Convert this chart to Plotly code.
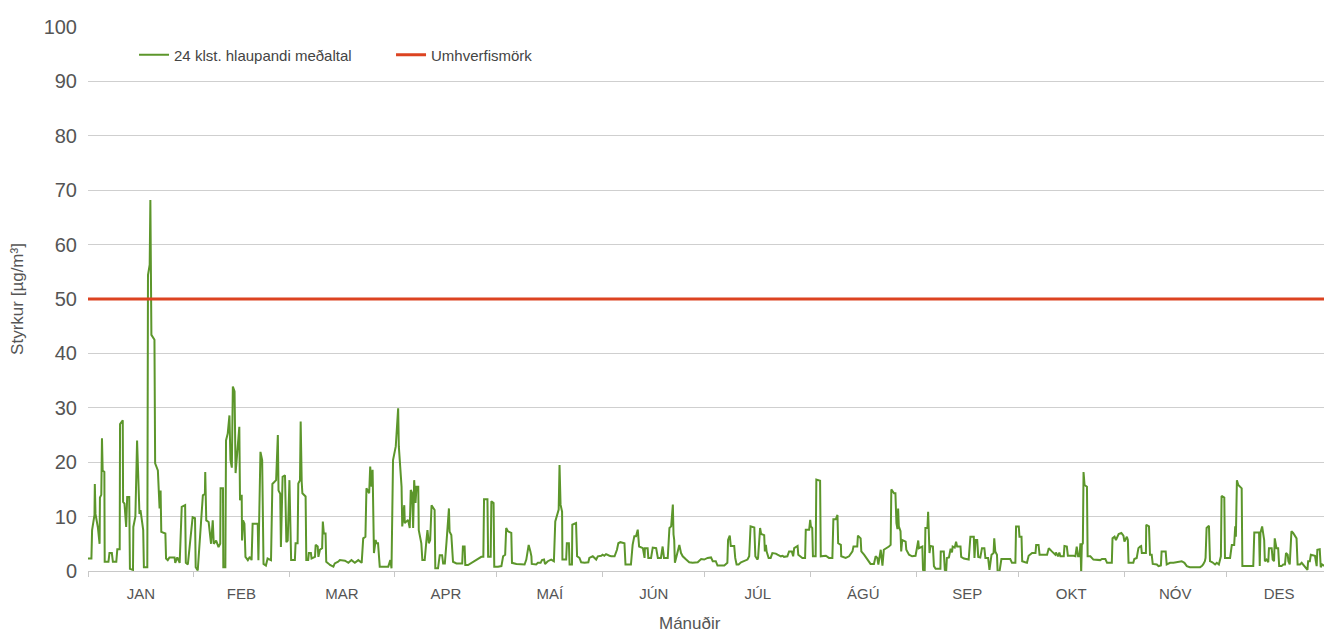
import plotly.graph_objects as go

# ---- data (day of year, 24h running mean in µg/m³) ----
jan_days = [0.0, 1.0, 1.2, 1.9, 2.0, 2.2, 2.9, 3.4, 3.5, 3.9, 4.1, 4.3, 4.8, 4.9, 6.0, 6.3, 7.0, 7.3, 8.3, 8.6,
            9.3, 9.4, 10.2, 10.3, 10.7, 11.2, 11.5, 12.1, 12.3, 13.2, 13.3, 13.9, 14.4, 14.6, 15.1, 15.4, 15.6,
            16.2, 16.4, 17.4, 17.6, 18.1, 18.3, 18.5, 18.6, 19.5, 19.7, 20.5, 21.0, 21.3, 21.5, 22.7, 22.9,
            23.4, 23.9, 25.4, 25.6, 26.2, 26.9, 27.5, 28.5, 28.7, 29.3, 30.7, 31.4, 31.6, 32.2]
jan_vals = [2.3, 2.3, 7.5, 10.3, 16.0, 10.5, 8.0, 5.0, 13.5, 14.0, 24.4, 18.5, 18.2, 1.7, 1.7, 3.3, 3.3, 1.7, 1.7, 4.0,
            4.0, 27.0, 27.7, 12.7, 12.4, 8.1, 13.6, 13.6, 0.4, 0.2, 8.1, 10.0, 24.0, 18.5, 10.5, 11.2, 10.0,
            7.5, 0.7, 0.7, 54.4, 56.3, 68.2, 56.0, 43.4, 42.5, 19.8, 18.5, 11.5, 14.8, 7.2, 6.9, 2.3,
            2.0, 2.5, 2.5, 1.5, 2.5, 1.5, 11.8, 12.1, 1.5, 1.2, 9.9, 9.7, 0.7, 0.1]

feb_days = [33.7, 34.3, 34.4, 34.7, 35.4, 35.6, 36.1, 36.6, 36.9, 37.6, 38.3, 38.8, 38.9, 39.6, 39.7, 40.3, 40.5,
            41.0, 41.5, 41.8, 42.2, 42.5, 43.0, 43.3, 44.4, 44.6, 45.1, 45.2, 45.5, 45.9, 46.2, 46.9, 47.5, 48.0,
            48.3, 49.8, 50.0, 50.6, 51.1, 51.5, 52.2, 52.7, 53.7, 54.1, 55.2, 55.7, 55.9, 56.4, 56.6, 57.1, 57.8,
            58.2, 58.6, 59.1, 59.6]
feb_vals = [13.9, 14.2, 18.2, 9.3, 9.0, 7.5, 5.0, 9.3, 5.0, 5.6, 4.4, 5.0, 15.2, 15.2, 0.7, 0.7, 24.0,
            25.3, 28.6, 20.4, 19.0, 33.9, 33.0, 18.0, 26.5, 13.0, 14.0, 5.6, 9.3, 8.7, 2.6, 2.0, 2.6, 2.0,
            8.7, 8.7, 2.0, 21.9, 20.4, 1.3, 1.0, 2.3, 2.0, 16.0, 16.7, 25.0, 14.8, 14.2, 4.4, 17.3, 17.6,
            5.3, 5.6, 16.7, 2.0]

mar_apr_days = [60.7, 60.9, 61.5, 61.7, 62.2, 62.4, 62.7, 62.9, 63.85, 64.05, 64.6, 64.8, 65.4, 65.6, 66.6, 66.8,
                67.4, 67.6, 68.05, 68.7, 68.9, 69.2, 69.7, 69.9, 70.5, 71.0, 72.0, 72.4, 73.4, 73.9, 75.4, 76.4,
                77.3, 78.3, 79.3, 80.3, 80.75, 81.4, 81.7, 82.5, 82.8, 83.2, 83.5, 83.9, 84.4, 84.65, 85.1, 85.6,
                88.1, 88.7, 89.05, 89.5, 90.3, 91.0, 91.2, 92.0, 92.2, 92.8, 92.95, 93.9, 94.4, 94.7, 95.1, 95.4,
                95.7, 96.1, 96.4, 96.9, 97.05, 97.8, 98.1, 98.8, 99.3, 99.6, 100.0, 100.4, 100.8, 101.7, 101.9,
                102.7, 103.2, 103.9, 104.2, 104.7, 105.2, 105.6, 105.9, 106.1, 106.6, 107.1, 108.1, 109.8, 110.0,
                110.5, 110.7, 111.5, 113.0, 113.95, 115.4, 116.0, 116.2, 117.2, 117.4, 118.15, 118.35, 119.0,
                119.2, 120.3, 121.3, 121.8, 122.4]
mar_apr_vals = [2.0, 5.1, 5.1, 16.1, 16.7, 27.5, 16.4, 14.3, 13.7, 2.0, 2.0, 3.3, 3.3, 2.3, 2.6, 4.8,
                4.5, 2.6, 3.9, 4.2, 9.1, 6.9, 6.9, 1.7, 1.4, 1.1, 0.8, 1.4, 1.7, 2.0, 1.9, 1.5,
                2.0, 1.5, 2.0, 1.5, 6.0, 6.3, 15.2, 14.3, 19.2, 15.5, 18.6, 3.3, 5.7, 5.1, 5.1, 0.8,
                0.8, 2.0, 0.5, 20.4, 22.9, 29.9, 22.9, 15.5, 8.2, 12.1, 8.8, 9.4, 7.9, 14.9, 14.3, 7.9,
                16.7, 12.5, 15.5, 15.5, 7.5, 5.1, 2.0, 2.0, 5.7, 7.5, 5.1, 5.7, 12.1, 11.2, 0.5,
                0.5, 2.9, 2.9, 1.4, 1.4, 5.4, 8.2, 11.5, 7.2, 6.6, 1.7, 1.4, 1.4, 4.5,
                4.5, 1.1, 1.1, 1.7, 2.0, 2.6, 2.6, 13.2, 13.2, 2.6, 2.6, 12.8, 12.5,
                0.8, 0.8, 0.9, 2.7, 3.0]

may_jun_days = [122.7, 123.2, 124.2, 124.4, 125.7, 127.6, 128.1, 128.6, 129.1, 129.3, 129.8, 130.1, 130.2, 131.0,
                131.5, 132.0, 132.8, 133.2, 133.8, 134.1, 134.9, 135.9, 136.7, 137.1, 138.1, 138.35, 138.65,
                139.1, 139.2, 140.3, 140.5, 141.1, 141.3, 142.0, 142.1, 143.2, 143.5, 144.2, 144.7, 145.7, 146.8,
                147.1, 148.1, 149.1, 149.6, 150.6, 151.0, 151.5, 152.0, 153.0, 153.5, 154.5, 155.2, 155.6, 156.2,
                157.4, 157.7, 159.3, 159.8, 160.3, 160.8, 161.3, 161.7, 162.8, 163.3, 163.4, 164.2, 164.4, 165.2,
                165.7, 166.7, 167.2, 168.1, 168.6, 169.0, 170.1, 170.6, 171.1, 171.6, 171.8, 172.0, 172.2, 172.7,
                173.5, 174.0, 174.5, 175.5, 176.4, 177.4, 178.9, 179.9, 180.8]
may_jun_vals = [7.9, 7.3, 7.0, 1.5, 1.3, 1.3, 1.2, 2.1, 3.9, 4.8, 3.6, 2.7, 1.3, 1.3,
                1.2, 1.5, 1.5, 2.0, 2.1, 1.3, 1.8, 2.1, 1.8, 9.1, 11.3, 19.5, 12.2,
                10.9, 2.1, 2.1, 5.1, 5.1, 1.2, 1.2, 8.5, 8.8, 2.7, 2.4, 1.6, 1.5, 1.6,
                2.4, 2.7, 2.1, 2.7, 2.8, 3.0, 2.8, 3.1, 2.8, 2.7, 2.7, 3.9, 5.1, 5.3,
                5.1, 1.2, 1.2, 4.8, 6.4, 6.4, 7.6, 4.5, 4.2, 2.4, 4.2, 4.2, 2.4, 2.4,
                4.3, 4.2, 2.4, 2.4, 4.5, 2.4, 2.4, 7.9, 8.2, 12.2, 6.7, 5.7, 1.5, 3.0,
                4.8, 3.3, 2.7, 2.1, 1.6, 1.5, 1.6, 2.2, 2.1]

jul_aug_days = [181.8, 182.8, 183.3, 184.2, 184.7, 186.7, 187.6, 187.8, 188.3, 188.6, 189.6, 189.9, 190.3, 190.9,
                191.6, 192.5, 193.5, 194.0, 194.4, 195.5, 195.8, 196.4, 196.6, 197.2, 197.5, 198.4, 198.6, 198.9,
                199.1, 199.7, 200.3, 200.8, 201.8, 202.3, 203.3, 203.8, 204.2, 205.2, 205.7, 206.5, 206.9, 207.2,
                207.9, 208.2, 208.4, 209.6, 210.4, 210.6, 211.6, 211.9, 212.1, 212.5, 212.7, 213.5, 213.7, 214.8,
                215.0, 216.5, 217.4, 218.4, 218.7, 219.4, 219.9, 220.1, 220.9, 221.0, 222.3, 223.3, 224.3, 224.6,
                225.7, 225.9, 226.7, 226.9, 227.7, 228.7, 229.6, 230.6, 231.1, 231.6, 231.9, 232.6, 233.1, 233.5,
                234.5, 235.0, 235.5, 235.7, 236.5, 236.9, 237.2, 237.5, 237.7, 237.9, 238.4, 238.6, 238.9, 239.9,
                240.1, 240.9, 241.8, 242.8]
jul_aug_vals = [2.4, 2.5, 1.8, 1.8, 1.0, 1.0, 1.5, 5.7, 6.5, 4.6, 4.6, 2.4, 1.2, 1.2,
                1.6, 1.8, 2.1, 2.7, 8.2, 8.0, 2.7, 2.1, 2.4, 7.9, 6.8, 6.6, 3.6, 4.8,
                3.6, 2.4, 2.4, 3.3, 3.2, 3.0, 2.7, 2.8, 2.6, 2.7, 3.6, 3.6, 2.7, 4.2,
                4.5, 4.6, 3.0, 2.4, 2.4, 7.6, 7.6, 9.4, 8.2, 7.9, 2.7, 2.7, 16.8, 16.6,
                2.7, 2.8, 2.4, 2.4, 9.5, 9.5, 10.3, 5.1, 4.8, 2.7, 2.4, 2.7, 3.6, 4.5,
                4.5, 6.5, 6.0, 3.6, 3.0, 2.1, 1.3, 1.3, 2.7, 2.4, 1.2, 3.9, 1.0, 3.9,
                4.2, 4.5, 4.8, 15.0, 14.3, 14.3, 8.8, 7.7, 11.5, 8.2, 7.3, 3.6, 5.7, 5.4,
                3.9, 3.0, 2.7, 2.8]

sep_oct_days = [243.3, 243.6, 243.8, 244.8, 245.0, 245.5, 245.7, 246.3, 246.5, 246.9, 247.2, 247.9, 248.2, 248.7,
                250.1, 250.2, 251.1, 251.4, 251.8, 252.0, 252.6, 253.1, 253.5, 253.7, 254.3, 254.7, 255.0, 256.0,
                256.2, 257.0, 258.4, 258.9, 259.9, 260.1, 260.4, 260.9, 261.2, 261.8, 262.3, 263.0, 263.3, 264.1,
                264.5, 265.1, 265.7, 265.9, 266.2, 266.7, 267.0, 267.4, 268.0, 270.6, 271.1, 272.1, 272.3, 273.1,
                273.3, 273.9, 274.1, 275.0, 275.5, 276.0, 277.0, 278.0, 278.2, 278.9, 279.2, 281.4, 281.9, 282.8,
                283.8, 284.0, 284.6, 285.0, 285.3, 286.3, 286.5, 287.2, 287.5, 289.2, 289.7, 290.1, 290.5, 290.9,
                291.2, 291.4, 291.6, 291.9, 292.1, 292.4, 293.1, 293.3, 294.1, 295.0, 296.0, 297.0, 297.5, 298.5,
                299.0, 300.4, 300.6, 301.2, 301.6, 302.4, 303.2, 303.8, 304.1]
sep_oct_vals = [4.5, 5.6, 4.2, 4.5, 0.2, 0.0, 7.9, 7.9, 10.9, 3.3, 4.6, 4.5, 0.9, 0.4,
                0.4, 3.6, 3.6, 0.2, 0.0, 2.4, 2.5, 4.1, 3.4, 4.5, 4.3, 5.4, 4.5, 4.5,
                2.6, 2.3, 2.1, 6.3, 6.3, 2.4, 5.7, 5.7, 2.6, 2.5, 4.2, 4.2, 2.4, 2.4,
                0.2, 3.0, 3.3, 6.0, 3.6, 3.0, -1.9, 0.2, 2.2, 2.2, 1.5, 1.5, 8.2, 8.2,
                6.3, 6.3, 1.8, 1.6, 1.5, 2.8, 3.3, 3.3, 4.8, 4.8, 3.0, 3.0, 4.2, 3.6,
                3.0, 3.4, 2.7, 3.4, 2.7, 2.7, 4.6, 4.5, 2.8, 2.8, 2.7, 4.5, 2.7, 2.7,
                5.1, -0.4, 4.8, 5.1, 18.2, 15.8, 15.5, 2.7, 2.7, 2.1, 2.0, 2.0, 2.2, 2.2,
                1.5, 1.5, 6.0, 6.3, 5.7, 6.8, 7.0, 6.5, 5.4]

nov_dec_days = [304.8, 305.1, 305.3, 306.7, 307.0, 307.7, 308.2, 308.7, 309.0, 309.2, 310.4, 310.5, 311.3, 311.6,
                312.1, 312.4, 313.6, 314.1, 314.8, 315.0, 316.2, 316.5, 317.5, 318.5, 319.9, 320.9, 321.7, 322.4,
                323.3, 326.3, 326.8, 327.2, 327.7, 327.9, 328.2, 328.9, 329.2, 329.9, 330.7, 331.2, 331.8, 332.4,
                332.6, 333.4, 333.6, 335.1, 335.6, 336.3, 336.6, 336.8, 337.1, 337.5, 338.5, 338.7, 341.9, 342.2,
                343.6, 343.8, 344.0, 344.5, 345.1, 345.3, 345.8, 346.3, 346.5, 347.3, 347.6, 348.0, 348.2, 348.7,
                349.2, 349.5, 350.2, 350.7, 351.2, 351.5, 352.0, 352.2, 352.6, 353.1, 353.6, 354.6, 354.9, 355.6,
                356.1, 357.0, 357.8, 358.0, 358.5, 358.8, 359.5, 360.0, 360.5, 360.7, 361.4, 361.7, 362.1, 362.9,
                363.2, 363.6, 363.9, 364.8]
nov_dec_vals = [6.3, 5.7, 1.5, 1.5, 2.2, 2.4, 4.2, 4.5, 4.6, 3.3, 3.3, 8.5, 8.2, 3.0,
                3.0, 1.3, 1.2, 0.9, 1.0, 3.6, 3.6, 1.2, 1.5, 1.5, 1.6, 1.8, 1.5, 0.9,
                0.7, 0.7, 0.9, 1.2, 1.8, 2.4, 7.9, 8.3, 1.8, 1.6, 1.2, 1.5, 1.2, 2.7,
                13.8, 13.5, 2.4, 2.4, 4.8, 4.8, 8.2, 6.3, 16.7, 15.8, 15.2, 0.9, 0.9, 7.1,
                7.1, 0.9, 7.0, 8.2, 5.7, 1.8, 2.1, 1.6, 4.2, 4.2, 2.1, 1.8, 6.0, 4.2,
                4.2, 0.9, 0.9, 1.2, 1.2, 3.3, 3.0, 1.8, 1.2, 7.3, 7.0, 6.0, 1.2, 1.2,
                1.5, 0.7, 0.2, 1.8, 1.8, 3.0, 2.9, 2.8, 0.9, 3.9, 4.0, 0.7, 1.2, 0.9,
                1.5, 1.2, 0.7, 0.7]

limit_days = [0, 365]
limit_vals = [50, 50]

months = ["JAN", "FEB", "MAR", "APR", "MAÍ", "JÚN", "JÚL", "ÁGÚ", "SEP", "OKT", "NÓV", "DES"]
month_starts = [0, 31, 59, 90, 120, 151, 181, 212, 243, 273, 304, 334, 365]
y_ticks = [0, 10, 20, 30, 40, 50, 60, 70, 80, 90, 100]

series_name = "24 klst. hlaupandi meðaltal"
limit_name = "Umhverfismörk"
x_title = "Mánuðir"
y_title = "Styrkur [µg/m³]"

# ---- build ----
days = jan_days + feb_days + mar_apr_days + may_jun_days + jul_aug_days + sep_oct_days + nov_dec_days
vals = jan_vals + feb_vals + mar_apr_vals + may_jun_vals + jul_aug_vals + sep_oct_vals + nov_dec_vals
month_mids = [(a + b) / 2 for a, b in zip(month_starts[:-1], month_starts[1:])]

text_col = "#555555"
fig = go.Figure()
fig.add_trace(go.Scatter(x=days, y=vals, mode="lines", name=series_name,
                         line=dict(color="#5c962b", width=2)))
fig.add_trace(go.Scatter(x=limit_days, y=limit_vals, mode="lines", name=limit_name,
                         line=dict(color="#dc4321", width=3)))

fig.update_layout(
    width=1332, height=635,
    margin=dict(l=78, r=8, t=19, b=72),
    paper_bgcolor="white", plot_bgcolor="white",
    font=dict(family="Liberation Sans, Arial, sans-serif", color=text_col),
    showlegend=True,
    legend=dict(orientation="h", x=0.037, y=0.9485, xanchor="left", yanchor="middle",
                font=dict(size=15, color="#444444"), bgcolor="rgba(0,0,0,0)",
                entrywidthmode="pixels", entrywidth=212, itemwidth=30),
    xaxis=dict(range=[0, 365], tickmode="array", tickvals=month_mids, ticktext=months,
               ticks="", showgrid=False, zeroline=False, showline=True, linecolor="#c8c8c8",
               linewidth=1, tickfont=dict(size=15, color=text_col), ticklabelstandoff=9,
               minor=dict(tickmode="array", tickvals=month_starts, ticks="outside", ticklen=5,
                          tickcolor="#c8c8c8", showgrid=False)),
    yaxis=dict(range=[0, 100], tickmode="array", tickvals=y_ticks, showgrid=True,
               gridcolor="#cfcfcf", gridwidth=1, zeroline=False, showline=False, ticks="",
               tickfont=dict(size=20, color=text_col), ticklabelstandoff=10,
               title=dict(text=y_title, font=dict(size=17, color=text_col), standoff=16)),
    annotations=[dict(text=x_title, xref="paper", yref="paper", x=0.484, y=-0.0974,
                      xanchor="center", yanchor="middle", showarrow=False,
                      font=dict(size=17, color=text_col))],
)

fig.write_html("out.html")
